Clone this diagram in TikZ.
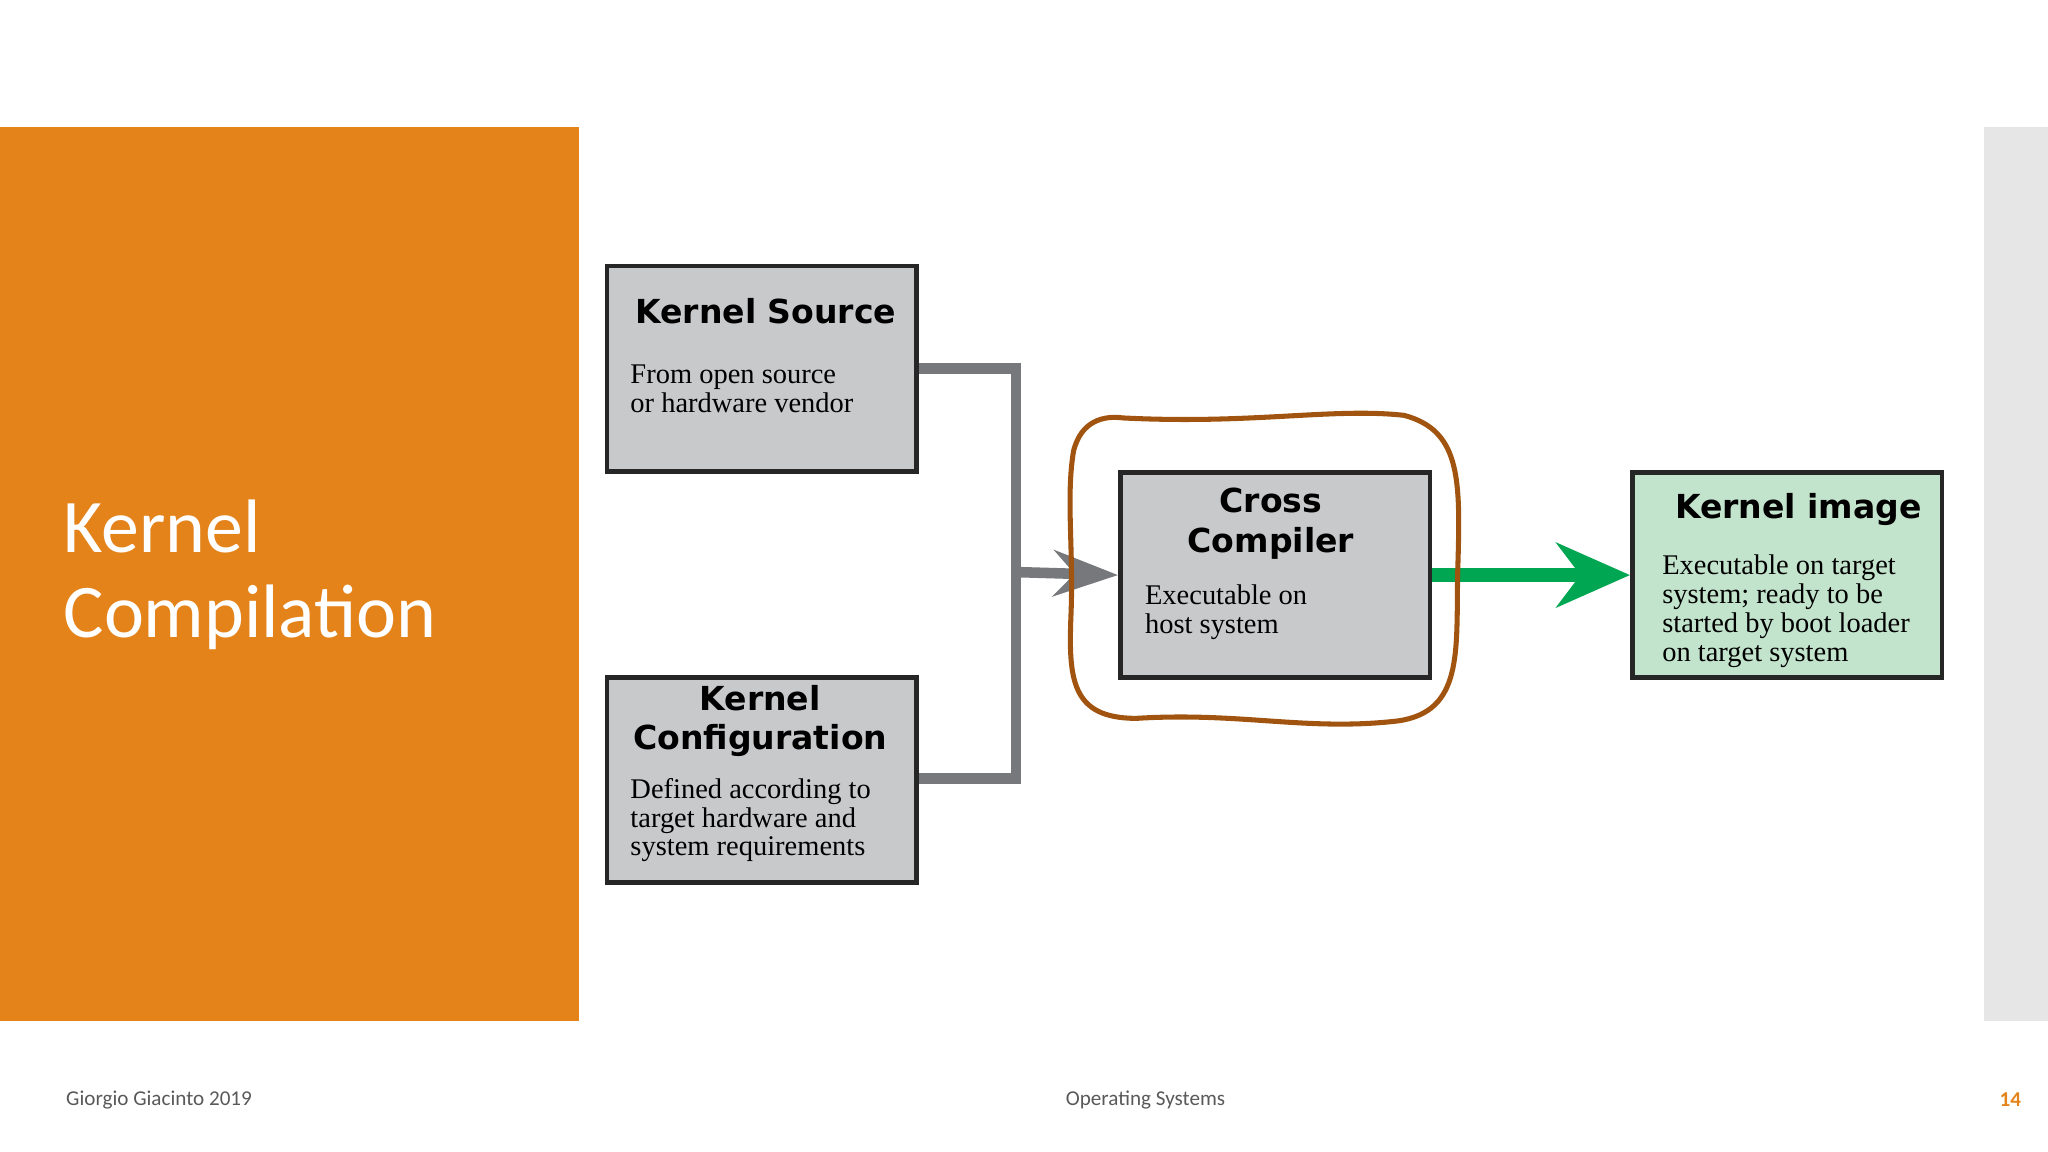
\documentclass[tikz,border=0pt]{standalone}
\usepackage{fontspec}
\setmainfont{Liberation Serif}
\newfontfamily\headfont{DejaVu Sans}
\newfontfamily\slidefont{Carlito}
\usetikzlibrary{arrows.meta}
\definecolor{slideorange}{HTML}{E4831A}
\definecolor{sidegrey}{HTML}{E6E6E6}
\definecolor{boxgrey}{HTML}{C8C9CB}
\definecolor{boxgreen}{HTML}{C3E4CC}
\definecolor{linkgrey}{HTML}{77787B}
\definecolor{arrowgreen}{HTML}{00A651}
\definecolor{penbrown}{HTML}{A0540F}
\begin{document}
\begin{tikzpicture}[x=0.01cm,y=-0.01cm,
  box/.style={draw=black!85,line width=1pt,fill=boxgrey,minimum width=2.37cm,minimum height=1.57cm,anchor=north west,inner sep=0pt},
  head/.style={font=\headfont\bfseries\fontsize{7.2}{8.6}\selectfont,align=center},
  body/.style={font=\fontsize{6.2}{6.3}\selectfont,align=left,anchor=north west,inner sep=0pt},
  link/.style={linkgrey,line width=2.3pt}]
\useasboundingbox (0,0) rectangle (1568,882);
\fill[slideorange] (0,97) rectangle (443,782);
\fill[sidegrey] (1519,97) rectangle (1568,782);
\node[anchor=north west,text=white,align=left,font=\slidefont\fontsize{16.5}{18.5}\selectfont,inner sep=0pt] (title) at (48,382) {Kernel\\Compilation};

\node[box] (src) at (463,202) {};
\node[box] (cfg) at (463,517) {};
\node[box] (cc) at (856,360) {};
\node[box,fill=boxgreen] (img) at (1248,360) {};

\node[head,anchor=west] (srch) at (474,238) {Kernel Source};
\node[body] (srcb) at (482,279) {From open source\\or hardware vendor};
\node[head] (cfgh) at (582,552) {Kernel\\Configuration};
\node[body] (cfgb) at (482,595) {Defined according to\\target hardware and\\system requirements};
\node[head] (cch) at (973,401) {Cross\\Compiler};
\node[body] (ccb) at (876,447) {Executable on\\host system};
\node[head,anchor=west] (imgh) at (1270,390) {Kernel image};
\node[body] (imgb) at (1272,424) {Executable on target\\system; ready to be\\started by boot loader\\on target system};

\coordinate (j) at (778,438);
\draw[link] (src.east |- 0,282) -| (j) |- (cfg.east |- 0,596);
\draw[link,-{Stealth[length=14pt,width=10pt,open,fill=linkgrey!60]}] (j) -- (cc.west);
\draw[arrowgreen,line width=3pt,-{Stealth[length=16pt,width=14pt]}] (cc.east) -- (img.west);

\draw[penbrown,line width=1.1pt] (860,320) .. controls (960,325) and (1020,312) .. (1075,318)
  .. controls (1120,330) and (1118,370) .. (1116,440)
  .. controls (1115,500) and (1120,545) .. (1070,552)
  .. controls (1000,560) and (950,545) .. (870,550)
  .. controls (820,550) and (818,520) .. (820,470)
  .. controls (822,420) and (816,380) .. (822,345)
  .. controls (828,322) and (845,318) .. (860,320) -- cycle;

\node[anchor=west,text=black!65,font=\slidefont\fontsize{4.6}{5}\selectfont,inner sep=0pt] (foot1) at (50,842) {Giorgio Giacinto 2019};
\node[text=black!65,font=\slidefont\fontsize{4.6}{5}\selectfont,inner sep=0pt] (foot2) at (877,842) {Operating Systems};
\node[anchor=east,text=slideorange,font=\slidefont\bfseries\fontsize{4.6}{5}\selectfont,inner sep=0pt] (foot3) at (1548,842) {14};
\end{tikzpicture}
\end{document}
